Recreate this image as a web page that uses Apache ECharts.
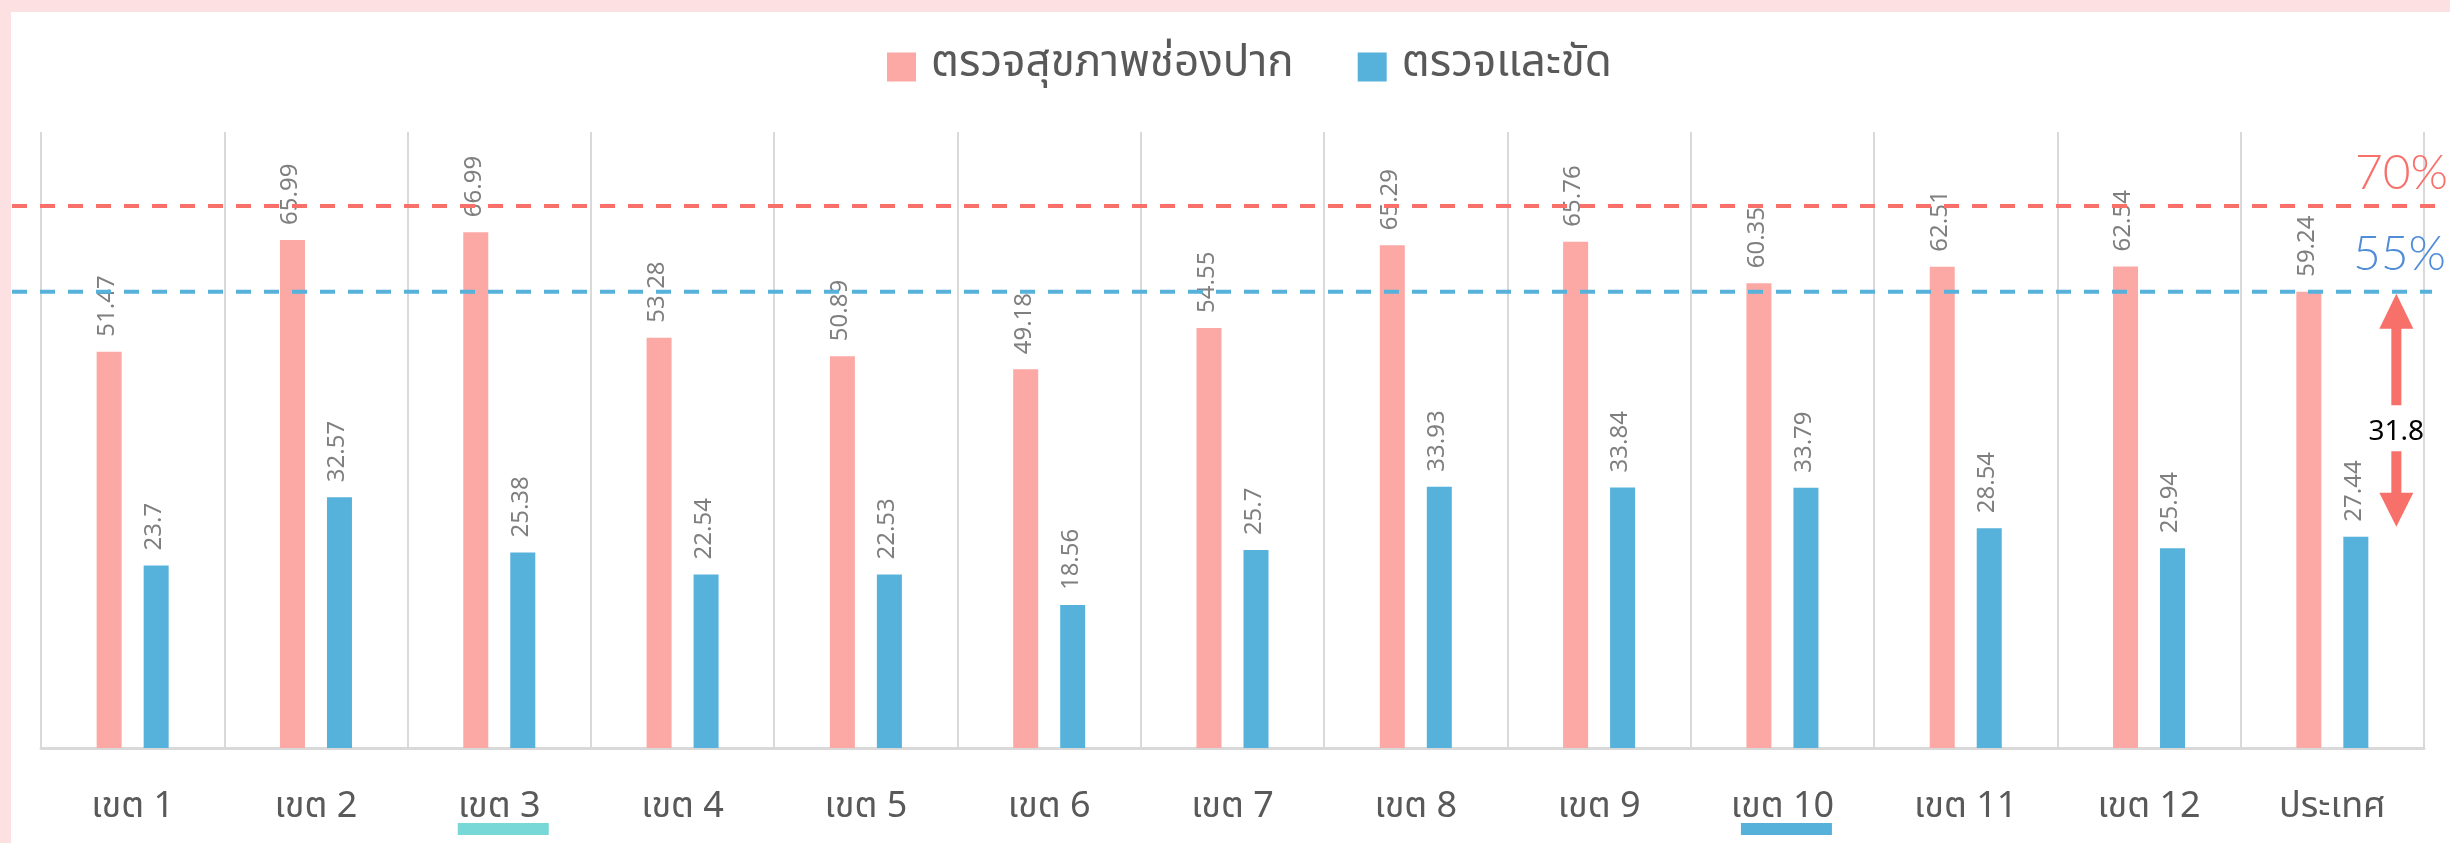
<!DOCTYPE html>
<html><head><meta charset="utf-8">
<script src="https://cdn.jsdelivr.net/npm/echarts@6/dist/echarts.min.js"></script>
<style>html,body{margin:0;padding:0;background:#fff;overflow:hidden}#c{width:2450px;height:843px}</style>
</head><body><div id="c"></div>
<script>
const categories = ['เขต 1','เขต 2','เขต 3','เขต 4','เขต 5','เขต 6','เขต 7','เขต 8','เขต 9','เขต 10','เขต 11','เขต 12','ประเทศ'];
const seriesNames = ['ตรวจสุขภาพช่องปาก','ตรวจและขัด'];
const oralExam = [51.47,65.99,66.99,53.28,50.89,49.18,54.55,65.29,65.76,60.35,62.51,62.54,59.24];
const scaling = [23.7,32.57,25.38,22.54,22.53,18.56,25.7,33.93,33.84,33.79,28.54,25.94,27.44];
const targetOralValue = 70.4;
const targetOralText = '70%';
const targetScaleValue = 59.24;
const targetScaleText = '55%';
const gapText = '31.8';
const underlinedCats = ['เขต 3','เขต 10'];

const FONT = "'Noto Sans Thai','Noto Sans','DejaVu Sans',sans-serif";
const PINK = '#fca8a4', BLUE = '#56b1db', RED = '#f8706a';

const chart = echarts.init(document.getElementById('c'), null, {renderer:'canvas'});
const barLabel = {show:true, position:'top', rotate:90, align:'left', verticalAlign:'middle', distance:15, fontSize:24, color:'#7f7f7f', fontFamily:FONT};
chart.setOption({
  animation:false,
  backgroundColor:'#ffffff',
  legend:{top:37, left:882, itemWidth:29, itemHeight:29, itemGap:64, icon:'rect',
    textStyle:{fontSize:44, color:'#595959', fontFamily:FONT, padding:[0,0,0,10], lineHeight:50},
    data:seriesNames},
  grid:{left:41, right:26, top:132, bottom:95, containLabel:false},
  xAxis:{type:'category', data:categories,
    axisLine:{lineStyle:{color:'#d9d9d9', width:3}},
    axisTick:{show:false},
    splitLine:{show:true, lineStyle:{color:'#d9d9d9', width:2}},
    axisLabel:{fontSize:36, color:'#595959', margin:44, fontFamily:FONT}},
  yAxis:{type:'value', min:0, max:80, show:false, splitLine:{show:false}},
  series:[
    {name:seriesNames[0], type:'bar', data:oralExam, barWidth:25, barGap:'88%', itemStyle:{color:PINK}, label:barLabel},
    {name:seriesNames[1], type:'bar', data:scaling, barWidth:25, barGap:'88%', itemStyle:{color:BLUE}, label:barLabel}
  ]
});

function px(cat, v){ return chart.convertToPixel({xAxisIndex:0, yAxisIndex:0}, [cat, v]); }
const yRed = px(categories[0], targetOralValue)[1];
const yBlue = px(categories[0], targetScaleValue)[1];
const last = categories[categories.length-1];
const natCenter = px(last, 0)[0];
const ax = natCenter + 64;
const yTop = px(last, oralExam[oralExam.length-1])[1] + 2;
const yBot = px(last, scaling[scaling.length-1])[1] - 10;
const yMid = (yTop + yBot)/2 + 20;

const g = [
  {type:'rect', shape:{x:0,y:0,width:2450,height:12}, style:{fill:'#fde0e1'}, z:200},
  {type:'rect', shape:{x:0,y:0,width:11,height:843}, style:{fill:'#fde0e1'}, z:200},
  {type:'line', shape:{x1:12,y1:yRed,x2:2436,y2:yRed}, style:{stroke:RED, lineWidth:4, lineDash:[15,13]}, z:150},
  {type:'line', shape:{x1:12,y1:yBlue,x2:2432,y2:yBlue}, style:{stroke:'#56b1db', lineWidth:4, lineDash:[15,13]}, z:150},
  {type:'text', x:2448, y:yRed-8, style:{text:targetOralText, fill:RED, font:"300 48px Lato, 'Noto Sans', sans-serif", textAlign:'right', textVerticalAlign:'bottom'}, z:160},
  {type:'text', x:2446, y:yBlue-13, style:{text:targetScaleText, fill:'#4f8dd8', font:"300 48px Lato, 'Noto Sans', sans-serif", textAlign:'right', textVerticalAlign:'bottom'}, z:160},
  {type:'polygon', shape:{points:[[ax,yTop],[ax+17,yTop+35],[ax+5,yTop+35],[ax+5,yMid-25],[ax-5,yMid-25],[ax-5,yTop+35],[ax-17,yTop+35]]}, style:{fill:RED}, z:160},
  {type:'polygon', shape:{points:[[ax,yBot],[ax+17,yBot-34],[ax+5,yBot-34],[ax+5,yMid+21],[ax-5,yMid+21],[ax-5,yBot-34],[ax-17,yBot-34]]}, style:{fill:RED}, z:160},
  {type:'text', x:ax, y:yMid+2, style:{text:gapText, fill:'#000', font:"28px 'Noto Sans', sans-serif", textAlign:'center', textVerticalAlign:'middle'}, z:160}
];
const ulColors = ['#78d8d8', '#55b0da'];
underlinedCats.forEach((c,i)=>{
  const cx = px(c,0)[0] + 4;
  g.push({type:'rect', shape:{x:cx-45.5, y:823, width:91, height:12}, style:{fill:ulColors[i]}, z:160});
});
chart.setOption({graphic:g});
</script></body></html>
